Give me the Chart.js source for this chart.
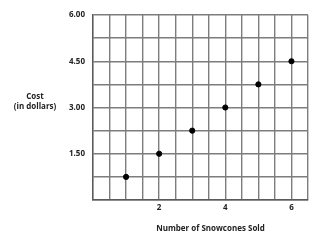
<!DOCTYPE html>
<html>
<head>
<meta charset="utf-8">
<script src="https://cdn.jsdelivr.net/npm/chart.js@4"></script>
<style>
  html, body { margin: 0; padding: 0; background: #fff; }
  #wrap { width: 321px; height: 240px; position: relative; }
</style>
</head>
<body>
<div id="wrap"><canvas id="chart"></canvas></div>
<script>
// snowcones sold vs cost
const sold = [1, 2, 3, 4, 5, 6];
const cost = [0.75, 1.5, 2.25, 3.0, 3.75, 4.5];
const xLabeled = [2, 4, 6];
const yLabeled = [1.5, 3.0, 4.5, 6.0];
const xTitle = 'Number of Snowcones Sold';
const yTitle = ['Cost', '(in dollars)'];

const tickFont = { family: 'Open Sans', size: 8, weight: 'bold' };

// both axis titles drawn by hand, the y one is horizontal
const axisTitles = {
  id: 'axisTitles',
  afterDraw(chart) {
    const ctx = chart.ctx;
    const y = chart.scales.y;
    const area = chart.chartArea;
    const mid = y.getPixelForValue(3.0);
    ctx.save();
    ctx.fillStyle = '#222';
    ctx.font = 'bold 8px "Open Sans"';
    ctx.textAlign = 'center';
    ctx.textBaseline = 'middle';
    ctx.fillText(yTitle[0], 35, mid - 11);
    ctx.fillText(yTitle[1], 35, mid - 1);
    ctx.fillText(xTitle, (area.left + area.right) / 2 + 10, area.bottom + 29);
    ctx.restore();
  }
};

new Chart(document.getElementById('chart'), {
  type: 'scatter',
  data: {
    datasets: [{
      data: sold.map((x, i) => ({ x: x, y: cost[i] })),
      backgroundColor: '#000',
      borderColor: '#000',
      pointRadius: 2.6,
      pointHoverRadius: 2.6
    }]
  },
  options: {
    responsive: true,
    maintainAspectRatio: false,
    animation: false,
    layout: { padding: { top: 15, right: 13, left: 0, bottom: 0 } },
    plugins: {
      legend: { display: false },
      tooltip: { enabled: false }
    },
    scales: {
      x: {
        type: 'linear',
        min: 0,
        max: 6.5,
        afterFit: (scale) => { scale.height = 40; },
        grid: { color: '#7d7d7d', lineWidth: 1.4, drawTicks: false },
        border: { color: '#5a5a5a', width: 1.4 },
        ticks: {
          stepSize: 0.5,
          padding: 3,
          color: '#222',
          font: tickFont,
          maxRotation: 0,
          autoSkip: false,
          callback: (v) => xLabeled.includes(v) ? String(v) : ''
        }
      },
      y: {
        type: 'linear',
        min: 0,
        max: 6,
        afterFit: (scale) => { scale.width = 93; },
        grid: { color: '#7d7d7d', lineWidth: 1.4, drawTicks: false },
        border: { color: '#5a5a5a', width: 1.4 },
        ticks: {
          stepSize: 0.75,
          padding: 8,
          color: '#222',
          font: tickFont,
          autoSkip: false,
          callback: (v) => yLabeled.includes(v) ? v.toFixed(2) : ''
        }
      }
    }
  },
  plugins: [axisTitles]
});
</script>
</body>
</html>
